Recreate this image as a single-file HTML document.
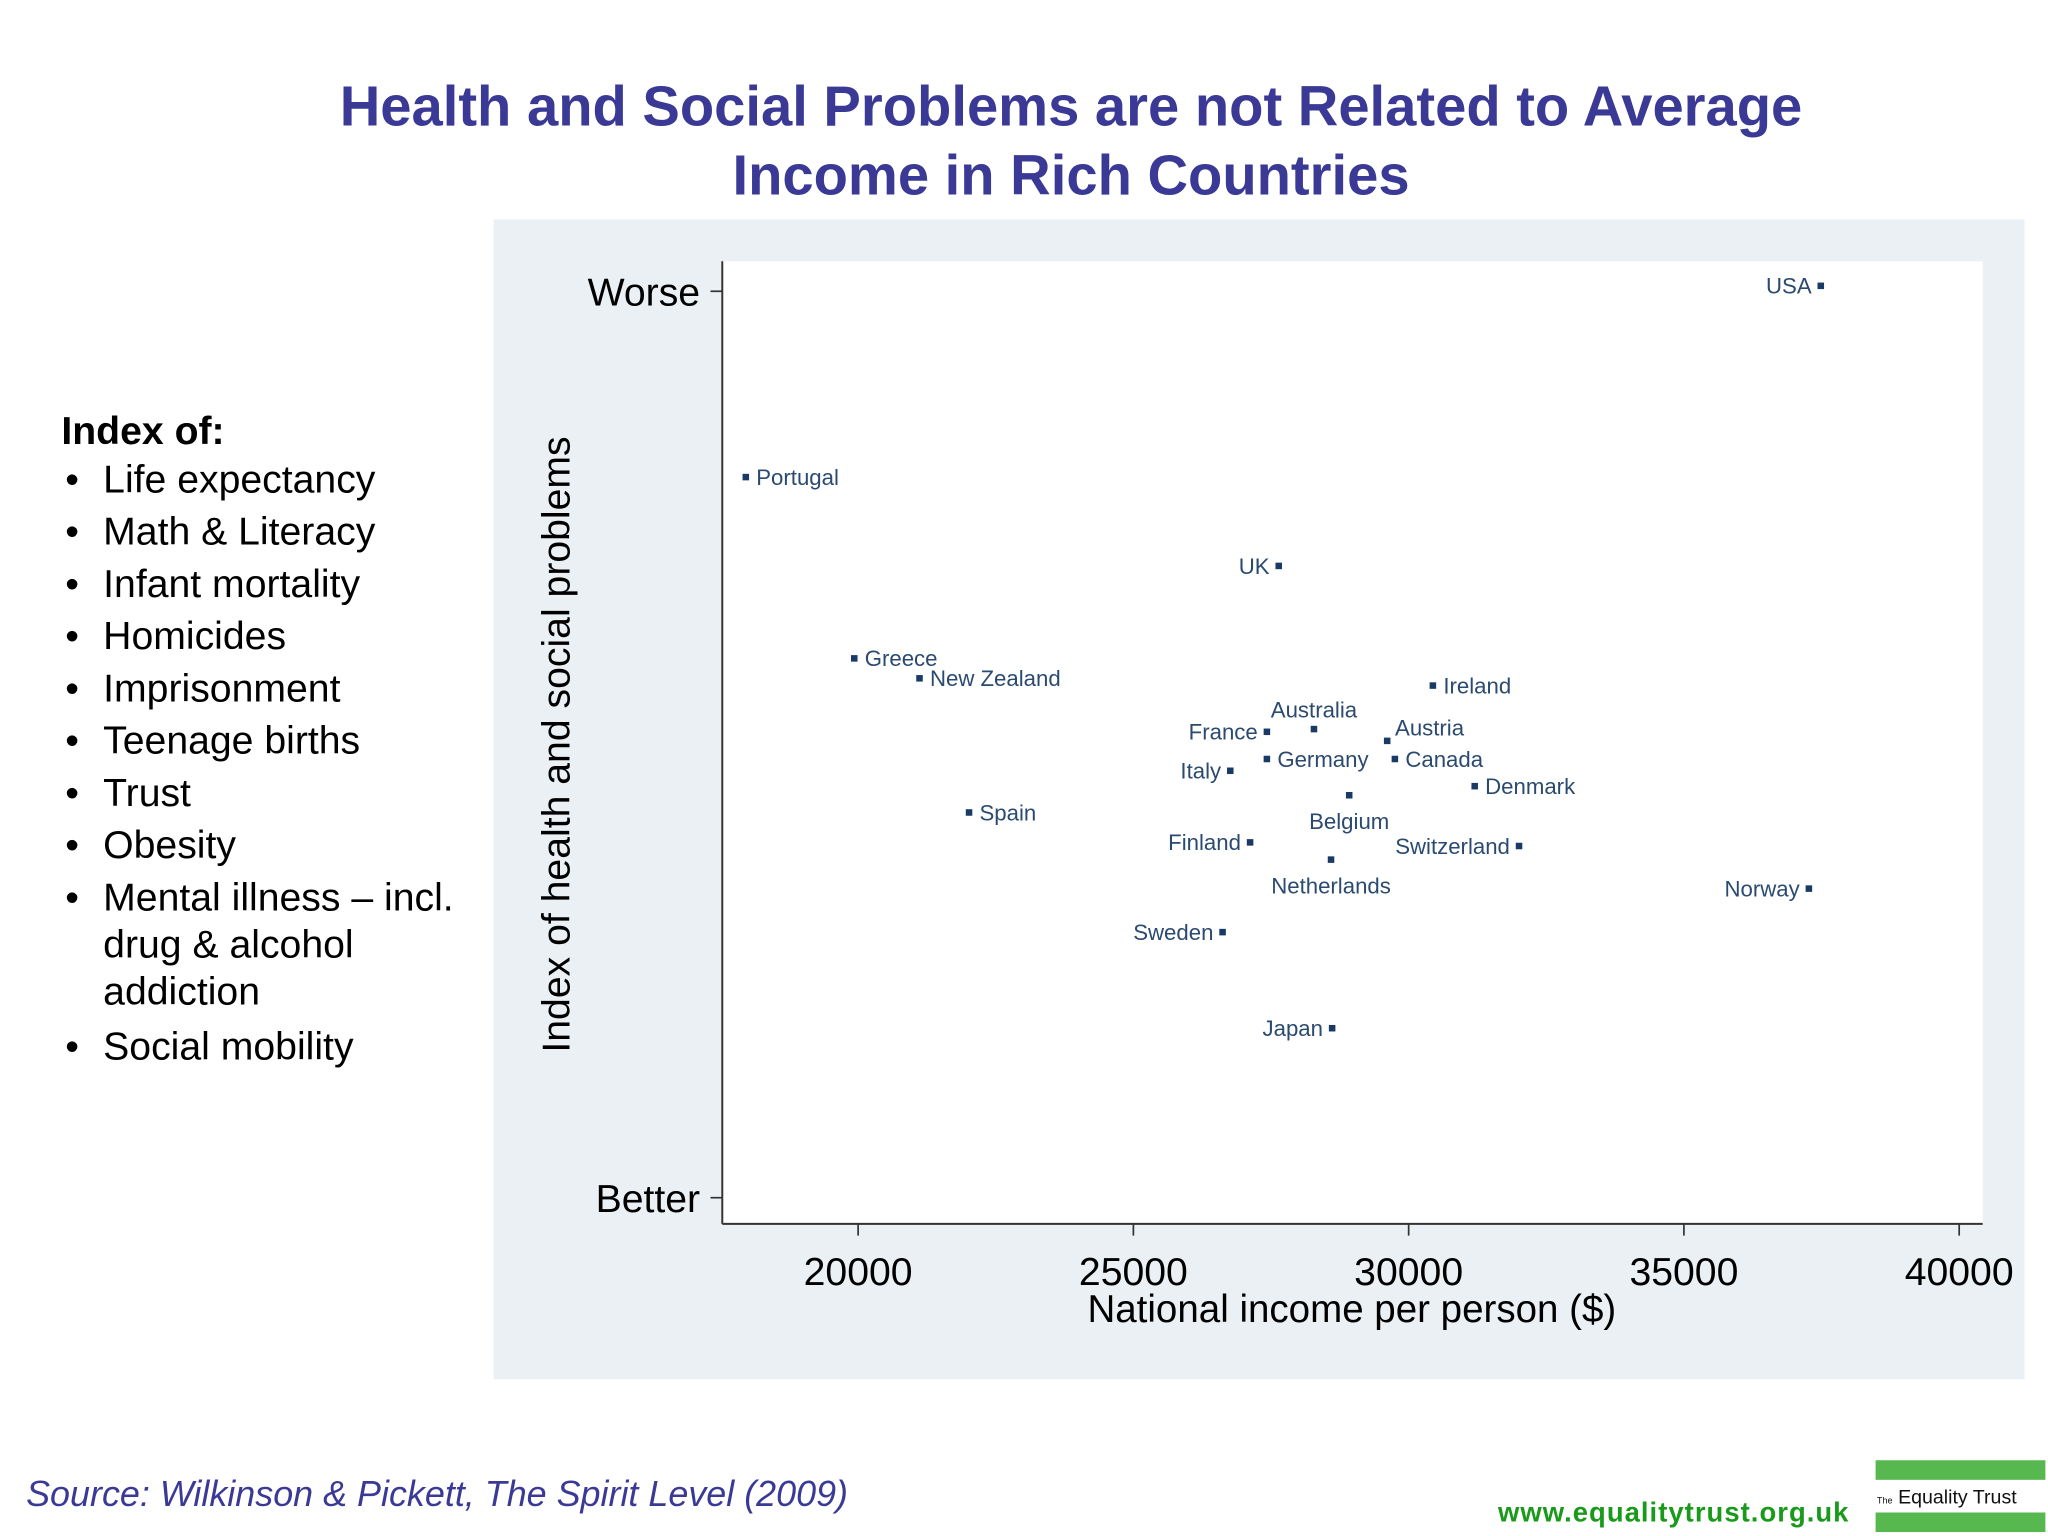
<!DOCTYPE html>
<html><head><meta charset="utf-8"><style>
html,body{margin:0;padding:0;background:#fff;}
svg{display:block;font-family:"Liberation Sans",Arial,sans-serif;}
</style></head><body>
<svg id="chart" width="2048" height="1536" viewBox="0 0 1568 1176">
<g fill="#3a3a96" font-weight="bold" font-size="43" text-anchor="middle">
<text x="820" y="96">Health and Social Problems are not Related to Average</text>
<text x="820" y="149">Income in Rich Countries</text>
</g>
<g font-size="30" fill="#000">
<text x="47" y="340" font-weight="bold">Index of:</text>
<g id="list"></g>
</g>
<rect x="378" y="168" width="1172" height="888" fill="#eaf0f3"/>
<rect x="553" y="200" width="965" height="737" fill="#fff"/>
<g id="axes"></g>
<g id="points"></g>
<text x="0" y="0" transform="translate(436,570) rotate(-90)" text-anchor="middle" font-size="30" fill="#000">Index of health and social problems</text>
<text x="1035" y="1012" text-anchor="middle" font-size="29.5" fill="#000">National income per person ($)</text>
<text x="20" y="1153" font-size="27.5" font-style="italic" fill="#3a3a96">Source: Wilkinson &amp; Pickett, The Spirit Level (2009)</text>
<text x="1416" y="1165" text-anchor="end" font-size="21" font-weight="bold" letter-spacing="0.8" fill="#1a9a1a">www.equalitytrust.org.uk</text>
<g>
<rect x="1436" y="1118" width="130" height="15" fill="#56b84f"/>
<rect x="1436" y="1158" width="130" height="15" fill="#56b84f"/>
<text x="1437" y="1151" font-size="15" fill="#111"><tspan font-size="7">The</tspan> Equality Trust</text>
</g>
</svg>
<script>
const countries=["USA","Portugal","UK","Greece","New Zealand","Ireland","France","Australia","Austria","Germany","Canada","Italy","Denmark","Belgium","Spain","Finland","Switzerland","Netherlands","Norway","Sweden","Japan"];
const income=[37486,17960,27640,19930,21115,30440,27425,28280,29610,27425,29750,26760,31200,28920,22015,27120,32005,28590,37270,26620,28610];
const indexScore=[10.06,7.95,6.97,5.95,5.73,5.65,5.14,5.17,5.04,4.84,4.84,4.71,4.54,4.44,4.25,3.92,3.88,3.73,3.41,2.93,1.87];
const labelPos=["left","right","left","right","right","right","left","above","aboveright","right","right","left","right","below","right","left","left","below","left","left","left"];
const xTicks=[20000,25000,30000,35000,40000];
const yTickLabels=["Better","Worse"];
const yTickValues=[0,10];
const listItems=["Life expectancy","Math & Literacy","Infant mortality","Homicides","Imprisonment","Teenage births","Trust","Obesity","Mental illness – incl.|drug & alcohol|addiction","Social mobility"];

const NS="http://www.w3.org/2000/svg";
function X(v){return 657+(v-20000)/5000*210.75;}
function Y(v){return 917-v*69.4;}
function mk(tag,attrs,parent,txt){const e=document.createElementNS(NS,tag);for(const k in attrs)e.setAttribute(k,attrs[k]);if(txt!=null)e.textContent=txt;parent.appendChild(e);return e;}

const list=document.getElementById('list');
let ly=377;
listItems.forEach((it,i)=>{
  const lines=it.split('|');
  const b=mk('text',{x:50,y:ly},list,'•');
  
  
  lines.forEach((ln,j)=>{
    const t=mk('text',{x:79,y:ly+j*36},list,ln);
    
    
  });
  ly+=lines.length>1?40+36*(lines.length-1)+2:40;
});

const axes=document.getElementById('axes');
const ya=mk('line',{x1:553,y1:200,x2:553,y2:937,stroke:'#333','stroke-width':1.5},axes);


const xa=mk('line',{x1:553,y1:937,x2:1518,y2:937,stroke:'#333','stroke-width':1.5},axes);


xTicks.forEach(v=>{
  const l=mk('line',{x1:X(v),y1:937,x2:X(v),y2:946,stroke:'#333','stroke-width':1.3},axes);
  
  
  const t=mk('text',{x:X(v),y:984,'text-anchor':'middle','font-size':30,fill:'#000'},axes,String(v));
  
  
});
yTickValues.forEach((v,i)=>{
  const l=mk('line',{x1:544,y1:Y(v),x2:553,y2:Y(v),stroke:'#333','stroke-width':1.3},axes);
  
  
  const t=mk('text',{x:536,y:Y(v)+11,'text-anchor':'end','font-size':30,fill:'#000'},axes,yTickLabels[i]);
  
  
});

const pts=document.getElementById('points');
countries.forEach((c,i)=>{
  const px=X(income[i]),py=Y(indexScore[i]);
  const r=mk('rect',{x:px-2.5,y:py-2.5,width:5,height:5,fill:'#1a3a66'},pts);
  
  
  let a={x:px+8,y:py+6,'text-anchor':'start'};
  const p=labelPos[i];
  if(p==='left')a={x:px-7,y:py+6,'text-anchor':'end'};
  if(p==='above')a={x:px,y:py-9,'text-anchor':'middle'};
  if(p==='aboveright')a={x:px+6,y:py-4,'text-anchor':'start'};
  if(p==='below')a={x:px,y:py+26,'text-anchor':'middle'};
  a['font-size']=17;a.fill='#2b4a70';
  const t=mk('text',a,pts,c);
  
  
});
</script>
</body></html>
